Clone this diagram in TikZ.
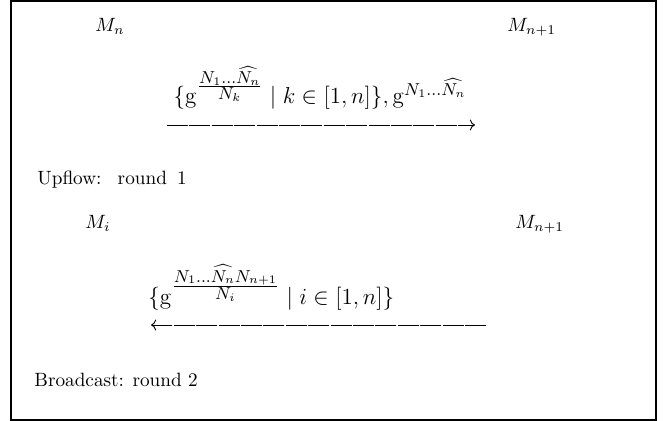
\documentclass[tikz,border=0pt]{standalone}
\usepackage{amsmath}
\usetikzlibrary{arrows.meta, positioning}

\newcommand{\expfrac}[2]{\frac{\scriptstyle #1}{\scriptstyle #2}}

\begin{document}
\begin{tikzpicture}[
    x=0.52pt, y=-0.52pt,
    >={Computer Modern Rightarrow},
    party/.style={anchor=base west, inner sep=0pt},
    msg/.style={inner sep=0pt, font=\fontsize{12.2}{14}\selectfont},
    caption/.style={anchor=base west, inner sep=0pt},
    flow/.style={line width=0.5pt, dash pattern=on 10.9pt off 0.75pt}
  ]
    \useasboundingbox (0,0) rectangle (663,421);
    \draw[line width=1pt] (11,1) rectangle (656,420);

    % round 1: upflow from M_n to M_{n+1}
    \node[party] (Mn) at (95,32) {$M_n$};
    \node[party] (Mn1) at (507,32) {$M_{n+1}$};
    \coordinate (up-s) at (167,125);
    \coordinate (up-e) at (475,125);
    \draw[flow, ->] (up-s) -- (up-e);
    \node[msg, anchor=base] (upmsg) at (320,104)
      {$\{\mathrm{g}^{\expfrac{N_1\ldots\widehat{N_n}}{N_k}} \mid k\in[1,n]\},\mathrm{g}^{N_1\ldots\widehat{N_n}}$};
    \node[caption] (upcap) at (37,185) {Upflow:\hspace{4pt} round\hspace{2pt} 1};

    % round 2: broadcast from M_{n+1} to every M_i
    \node[party] (Mi) at (85,229) {$M_i$};
    \node[party] (Mi1) at (515,229) {$M_{n+1}$};
    \coordinate (bc-s) at (486,325);
    \coordinate (bc-e) at (151,325);
    \draw[flow, ->] (bc-s) -- (bc-e);
    \node[msg, anchor=base west] (bcmsg) at (148,304)
      {$\{\mathrm{g}^{\expfrac{N_1\ldots\widehat{N_n}N_{n+1}}{N_i}} \mid i\in[1,n]\}$};
    \node[caption] (bccap) at (34,386) {Broadcast: round 2};
\end{tikzpicture}
\end{document}
